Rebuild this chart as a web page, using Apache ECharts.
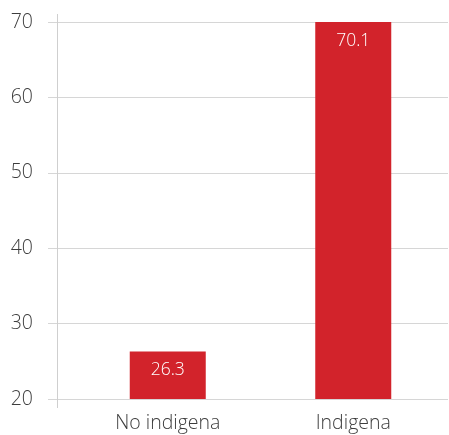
<!DOCTYPE html>
<html>
<head>
<meta charset="utf-8">
<script src="https://cdn.jsdelivr.net/npm/echarts@6/dist/echarts.min.js"></script>
<style>html,body{margin:0;padding:0;background:#fff}#c{width:449px;height:435px}</style>
</head>
<body>
<div id="c"></div>
<script>
var categories = ["No indigena", "Indigena"];
var values = [26.3, 70.1];
var yTicks = [20, 30, 40, 50, 60, 70];

var chart = echarts.init(document.getElementById('c'), null, {renderer: 'canvas'});
var font = '"Open Sans", "Noto Sans", sans-serif';
chart.setOption({
  animation: false,
  backgroundColor: '#ffffff',
  grid: [
    {left: 48, right: 1, top: 22, bottom: 36},
    {left: 75, right: 3, top: 22, bottom: 36}
  ],
  xAxis: [
    {gridIndex: 0, type: 'category', data: categories, show: false},
    {gridIndex: 1, type: 'category', data: categories,
     axisLine: {show: false}, axisTick: {show: false},
     axisLabel: {color: '#3d3d3d', fontSize: 19.5, fontWeight: 300, fontFamily: font, margin: 14}}
  ],
  yAxis: [
    {gridIndex: 0, type: 'value', min: yTicks[0], max: yTicks[yTicks.length - 1], interval: 10,
     axisLine: {show: false}, axisTick: {show: false},
     splitLine: {lineStyle: {color: '#d6d6d6', width: 1}},
     axisLabel: {color: '#3d3d3d', fontSize: 19.5, fontWeight: 300, fontFamily: font, margin: 15}},
    {gridIndex: 1, type: 'value', min: yTicks[0], max: yTicks[yTicks.length - 1], interval: 10, show: false}
  ],
  series: [{
    type: 'bar', xAxisIndex: 1, yAxisIndex: 1,
    data: values, barWidth: 76,
    itemStyle: {color: '#d2232b'},
    label: {show: true, position: 'insideTop', distance: 10, color: '#fff',
            fontSize: 17.5, fontWeight: 300, fontFamily: font, formatter: function(p){ return p.value.toFixed(1); }}
  }],
  graphic: [{
    type: 'line', shape: {x1: 57.5, y1: 14, x2: 57.5, y2: 408},
    style: {stroke: '#cfcfcf', lineWidth: 1}, z: 10
  }]
});
</script>
</body>
</html>
